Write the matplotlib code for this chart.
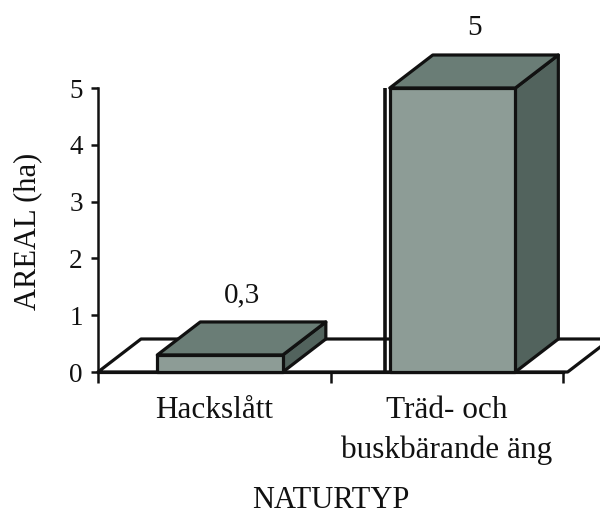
import matplotlib
matplotlib.use("Agg")
import matplotlib.pyplot as plt
from matplotlib.patches import Polygon, Rectangle

# Data
categories = ["Hackslått", "Träd- och\nbuskbärande äng"]
areas = [0.3, 5]
value_labels = ["0,3", "5"]
y_ticks = [0, 1, 2, 3, 4, 5]

plt.rcParams["font.family"] = ["Liberation Serif", "DejaVu Serif"]

W, H = 600, 517
fig = plt.figure(figsize=(W / 100, H / 100), dpi=100)

# axes: left edge at the y axis, bottom edge at the floor's front line
ax_left, ax_bottom = 98, 372
ax = fig.add_axes([ax_left / W, (H - ax_bottom) / H, (W - ax_left) / W, ax_bottom / H])
px_per_x = 232.5
px_per_y = 56.8
ax.set_xlim(0, (W - ax_left) / px_per_x)
ax.set_ylim(0, ax_bottom / px_per_y)
ax.patch.set_alpha(0)

# depth of the 3-D look, in data units
DX = 43 / px_per_x
DY = 33 / px_per_y

edge = "#111111"
lw = 2.3

# floor
floor_end = 2.02
floor = Polygon([(0, 0), (floor_end, 0), (floor_end + DX, DY), (DX, DY)],
                closed=True, facecolor="white", edgecolor=edge, lw=lw,
                joinstyle="round", clip_on=False, zorder=1)
ax.add_patch(floor)

front_col = "#8d9c96"
top_col = "#6a7d76"
side_col = "#52635d"

bar_w = 0.54
bar_off = 0.255
for i, (v, lab) in enumerate(zip(areas, value_labels)):
    x0 = i + bar_off
    x1 = x0 + bar_w
    side = Polygon([(x1, 0), (x1 + DX, DY), (x1 + DX, v + DY), (x1, v)],
                   closed=True, facecolor=side_col, edgecolor=edge, lw=lw,
                   joinstyle="round", zorder=2)
    top = Polygon([(x0, v), (x1, v), (x1 + DX, v + DY), (x0 + DX, v + DY)],
                  closed=True, facecolor=top_col, edgecolor=edge, lw=lw,
                  joinstyle="round", zorder=2)
    front = Rectangle((x0, 0), bar_w, v, facecolor=front_col, edgecolor=edge,
                      lw=lw, joinstyle="round", zorder=3)
    for p in (side, top, front):
        p.set_clip_on(False)
        ax.add_patch(p)
    if v > 1:
        # dark shadow line along the left side of the tall bar
        ax.plot([x0 - 0.022, x0 - 0.022], [0.0, v], color=edge, lw=2.6,
                solid_capstyle="butt", zorder=3, clip_on=False)
    ax.annotate(lab, xy=(x0 + bar_w / 2 + DX / 2, v + DY), xytext=(0, 27),
                textcoords="offset pixels", ha="center", va="center",
                fontsize=21, color="#111111", annotation_clip=False)

# spines and ticks
for s in ("top", "right"):
    ax.spines[s].set_visible(False)
ax.spines["left"].set_bounds(0, 5)
ax.spines["bottom"].set_bounds(0, 2)
ax.spines["left"].set_linewidth(1.8)
ax.spines["bottom"].set_linewidth(lw)
ax.spines["left"].set_color(edge)
ax.spines["bottom"].set_color(edge)

ax.set_yticks(y_ticks)
ax.set_yticklabels([str(t) for t in y_ticks])
ax.tick_params(axis="y", direction="out", length=5, width=1.8, pad=6,
               labelsize=19.5, colors=edge)

ax.set_xticks([0, 1, 2])
ax.set_xticklabels([])
ax.tick_params(axis="x", which="major", direction="out", length=8, width=1.8,
               colors=edge)
ax.set_xticks([0.5, 1.5], minor=True)
ax.set_xticklabels(categories, minor=True)
ax.tick_params(axis="x", which="minor", length=0, pad=17, labelsize=22.5,
               colors=edge)
for t in ax.get_xticklabels(minor=True):
    t.set_linespacing(1.5)
    t.set_verticalalignment("top")

fig.text(28 / W, 1 - 231 / H, "AREAL (ha)", rotation=90, ha="center",
         va="center", fontsize=22, color=edge)
fig.text(331 / W, 1 - 501 / H, "NATURTYP", ha="center", va="center",
         fontsize=22, color=edge)

fig.savefig("out.png", dpi=100)
